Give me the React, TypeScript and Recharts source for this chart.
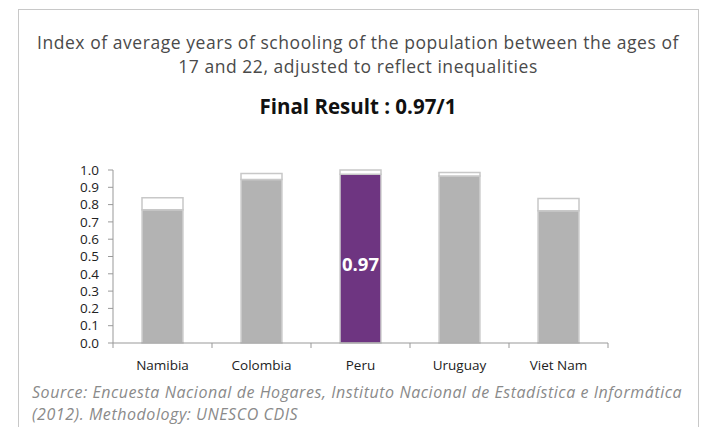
import { BarChart, Bar, XAxis, YAxis, Cell, LabelList } from 'recharts';

const countries = ['Namibia', 'Colombia', 'Peru', 'Uruguay', 'Viet Nam'];
const adjusted = [0.77, 0.945, 0.975, 0.965, 0.765];
const unadjusted = [0.84, 0.98, 1.0, 0.985, 0.835];
const yTicks = [0, 0.1, 0.2, 0.3, 0.4, 0.5, 0.6, 0.7, 0.8, 0.9, 1.0];
const highlight = 'Peru';
const highlightLabel = '0.97';

const data = countries.map((name, i) => ({
  name,
  adjusted: adjusted[i],
  gap: +(unadjusted[i] - adjusted[i]).toFixed(3),
}));

const FONT = '"Open Sans", Lato, sans-serif';
const PLOT_W = 495;

// Excel style: x tick marks sit between categories, not under them
function CategoryTick(props: any) {
  const { x, y, payload, index } = props;
  const half = PLOT_W / countries.length / 2;
  return (
    <g>
      <line x1={x - half} y1={y - 8} x2={x - half} y2={y - 3} stroke="#999" />
      {index === countries.length - 1 && (
        <line x1={x + half} y1={y - 8} x2={x + half} y2={y - 3} stroke="#999" />
      )}
      <text x={x} y={y + 19} textAnchor="middle" fill="#222" fontSize={13.5} fontFamily={FONT}>
        {payload.value}
      </text>
    </g>
  );
}

function PeruLabel(props: any) {
  const { x, y, width, height, index } = props;
  if (countries[index] !== highlight) return null;
  return (
    <text x={x + width / 2} y={y + height / 2 + 12} textAnchor="middle" fill="#fff"
      fontSize={18.5} fontWeight="bold" fontFamily={FONT}>
      {highlightLabel}
    </text>
  );
}

export default function App() {
  return (
    <div style={{ position: 'fixed', left: 0, top: 0, width: 704, height: 427, background: '#fff', overflow: 'hidden' }}>
      {/* frame */}
      <div style={{ position: 'absolute', left: 18, top: 9, width: 679, height: 430, border: '1px solid #c8c8c8' }} />

      <div style={{
        position: 'absolute', top: 30, left: 18, width: 680, textAlign: 'center',
        fontFamily: FONT, fontSize: 17.5, letterSpacing: 0.55, color: '#4a4a4a', lineHeight: '24px', whiteSpace: 'nowrap',
      }}>
        Index of average years of schooling of the population between the ages of<br />
        17 and 22, adjusted to reflect inequalities
      </div>
      <div style={{
        position: 'absolute', top: 92, left: 18, width: 680, textAlign: 'center',
        fontFamily: FONT, fontSize: 20.5, fontWeight: 'bold', color: '#111',
      }}>
        Final Result : 0.97/1
      </div>

      <div style={{ position: 'absolute', left: 0, top: 0 }}>
        <BarChart width={704} height={427} data={data}
          margin={{ top: 170, right: 96, bottom: 54, left: 63 }}>
          <YAxis domain={[0, 1]} ticks={yTicks} interval={0} width={50}
            tickFormatter={(v: number) => v.toFixed(1)}
            axisLine={{ stroke: '#999' }} tickLine={{ stroke: '#999' }} tickSize={5} tickMargin={9}
            tick={{ fill: '#222', fontSize: 13.5, fontFamily: FONT }} />
          <XAxis dataKey="name" axisLine={{ stroke: '#999' }} tickLine={false}
            tick={<CategoryTick />} height={30} interval={0} />
          <Bar dataKey="adjusted" stackId="a" barSize={41} stroke="#d0d0d0" strokeWidth={1.5} isAnimationActive={false}>
            {data.map((d) => (
              <Cell key={d.name} fill={d.name === highlight ? '#6e3581' : '#b3b3b3'} />
            ))}
            <LabelList dataKey="adjusted" content={<PeruLabel />} />
          </Bar>
          <Bar dataKey="gap" stackId="a" barSize={41} fill="#fff" stroke="#c8c8c8" strokeWidth={1.5} isAnimationActive={false} />
        </BarChart>
      </div>

      <div style={{
        position: 'absolute', top: 381, left: 32, fontFamily: FONT, fontStyle: 'italic',
        fontSize: 16, letterSpacing: 0.55, color: '#8a8a8a', lineHeight: '22px', whiteSpace: 'nowrap',
      }}>
        Source: Encuesta Nacional de Hogares, Instituto Nacional de Estadística e Informática<br />
        (2012). Methodology: UNESCO CDIS
      </div>
    </div>
  );
}
